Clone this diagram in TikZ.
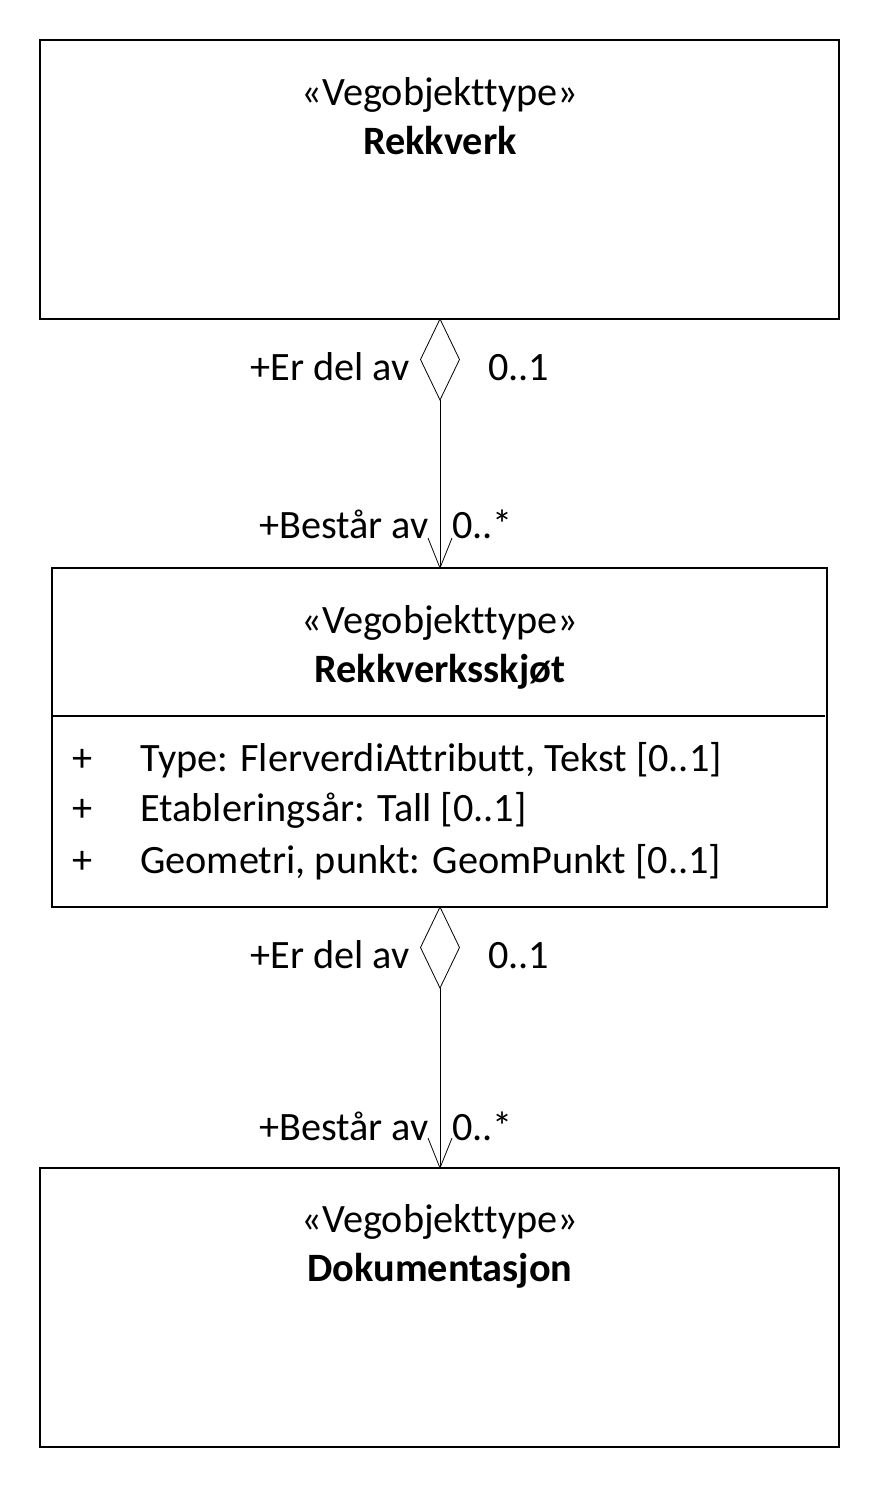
\documentclass[tikz,border=0pt]{standalone}
\usepackage{fontspec}
\setmainfont{Carlito}[Ligatures={NoCommon}]
\begin{document}
\begin{tikzpicture}[x=0.75pt,y=-0.75pt,
  txt/.style={font=\fontsize{30.2pt}{36pt}\selectfont, inner sep=0pt},
  btxt/.style={font=\fontsize{30.2pt}{36pt}\selectfont\bfseries, inner sep=0pt},
  agg/.style={draw, line width=0.6pt, fill=white},
  conn/.style={line width=0.6pt},
  arr/.style={line width=0.6pt}]
\useasboundingbox (0,0) rectangle (880,1488);
% boxes
\draw[line width=0.8pt] (40,40) rectangle (839,319);
\coordinate (b1s) at (440,319);
\draw[line width=0.8pt] (52,568) rectangle (827,907);
\coordinate (b2n) at (440,568);
\coordinate (b2s) at (440,907);
\draw[line width=1.3pt] (52,716) -- (825,716);
\draw[line width=0.8pt] (40,1168) rectangle (839,1447);
\coordinate (b3n) at (440,1168);
% box texts
\node[txt, anchor=base] (s1) at (440,105) {«Vegobjekttype»};
\node[btxt, anchor=base] (n1) at (440,154) {Rekkverk};
\node[txt, anchor=base] (s2) at (440,633) {«Vegobjekttype»};
\node[btxt, anchor=base] (n2) at (440,682) {Rekkverksskjøt};
\node[txt, anchor=base west] (p1) at (72,771) {+};
\node[txt, anchor=base west] (a1) at (140,771) {Type: FlerverdiAttributt, Tekst [0..1]};
\node[txt, anchor=base west] (p2) at (72,821) {+};
\node[txt, anchor=base west] (a2) at (140,821) {Etableringsår: Tall [0..1]};
\node[txt, anchor=base west] (p3) at (72,873) {+};
\node[txt, anchor=base west] (a3) at (140,873) {Geometri, punkt: GeomPunkt [0..1]};
\node[txt, anchor=base] (s3) at (440,1232) {«Vegobjekttype»};
\node[btxt, anchor=base] (n3) at (440,1281) {Dokumentasjon};
% association 1
\coordinate (d1b) at (440,400);
\draw[agg] (b1s) -- (459.5,359.5) -- (d1b) -- (420.5,359.5) -- cycle;
\draw[conn] (d1b) -- (b2n);
\draw[arr] (428,538) -- (b2n) -- (452,538);
\node[txt, anchor=base east] (l1a) at (410,380) {+Er del av};
\node[txt, anchor=base west] (l1b) at (488,380) {0..1};
\node[txt, anchor=base east] (l1c) at (429,538) {+Består av};
\node[txt, anchor=base west] (l1d) at (452,538) {0..*};
% association 2
\coordinate (d2b) at (440,988);
\draw[agg] (b2s) -- (459.5,947.5) -- (d2b) -- (420.5,947.5) -- cycle;
\draw[conn] (d2b) -- (b3n);
\draw[arr] (428,1138) -- (b3n) -- (452,1138);
\node[txt, anchor=base east] (l2a) at (410,968) {+Er del av};
\node[txt, anchor=base west] (l2b) at (488,968) {0..1};
\node[txt, anchor=base east] (l2c) at (429,1140) {+Består av};
\node[txt, anchor=base west] (l2d) at (452,1140) {0..*};
\end{tikzpicture}
\end{document}
